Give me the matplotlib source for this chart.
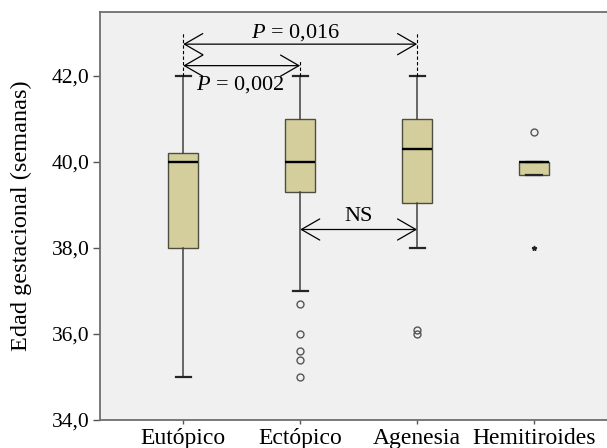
import matplotlib
matplotlib.use("Agg")
import matplotlib.pyplot as plt
from matplotlib.patches import FancyArrowPatch

plt.rcParams['font.family'] = ['Liberation Serif', 'DejaVu Serif']
plt.rcParams['mathtext.fontset'] = 'custom'
plt.rcParams['mathtext.rm'] = 'Liberation Serif'
plt.rcParams['mathtext.it'] = 'Liberation Serif:italic'

# Gestational age by thyroid location group
categories = ['Eutópico', 'Ectópico', 'Agenesia', 'Hemitiroides']
q1 = [38.0, 39.3, 39.05, 39.7]
medians = [40.0, 40.0, 40.3, 40.0]
q3 = [40.2, 41.0, 41.0, 40.0]
whisker_low = [35.0, 37.0, 38.0, 39.7]
whisker_high = [42.0, 42.0, 42.0, 40.0]
outliers = [[], [36.7, 36.0, 35.6, 35.4, 35.0], [36.1, 36.0], [40.7]]
extremes = [[], [], [], [38.0]]

# Pairwise comparisons: (group a, group b, label)
comparisons = [(0, 2, r'$P$ = 0,016'), (0, 1, r'$P$ = 0,002'), (1, 2, 'NS')]

yticks = [34.0, 36.0, 38.0, 40.0, 42.0]
ytick_labels = ['34,0', '36,0', '38,0', '40,0', '42,0']

fig = plt.figure(figsize=(6.07, 4.48), dpi=100)
ax = fig.add_axes([0.164, 0.0625, 0.84, 0.910])
ax.set_facecolor('#F0F0F0')

positions = list(range(1, len(categories) + 1))
stats = []
for i, name in enumerate(categories):
    stats.append(dict(label=name, q1=q1[i], med=medians[i], q3=q3[i],
                      whislo=whisker_low[i], whishi=whisker_high[i],
                      fliers=outliers[i]))

ax.bxp(stats, positions=positions, widths=0.26, patch_artist=True,
       showfliers=True, capwidths=0.13,
       boxprops=dict(facecolor='#D4CE9C', edgecolor='#4E4E40', linewidth=1.0),
       medianprops=dict(color='black', linewidth=1.7),
       whiskerprops=dict(color='#404040', linewidth=1.1),
       capprops=dict(color='#252525', linewidth=1.6),
       flierprops=dict(marker='o', markerfacecolor='none',
                       markeredgecolor='#555555', markersize=5,
                       markeredgewidth=1.0))

for pos, vals in zip(positions, extremes):
    if vals:
        ax.plot([pos] * len(vals), vals, linestyle='none', marker='*',
                color='#222222', markersize=3.5)

ax.set_xlim(0.285, 4.644)
ax.set_ylim(34.0, 43.48)
ax.set_yticks(yticks)
ax.set_yticklabels(ytick_labels, fontsize=15.5)
ax.set_xticks(positions)
ax.set_xticklabels(categories, fontsize=17)
ax.tick_params(axis='y', length=5, width=1.0, color='#555555', pad=2)
ax.tick_params(axis='x', length=3, width=1.0, color='#555555', pad=3)
ax.set_ylabel('Edad gestacional (semanas)', fontsize=17.5)
ax.yaxis.set_label_coords(-0.132, 0.5)

for side in ['left', 'bottom', 'top']:
    ax.spines[side].set_color('#6E6E6E')
    ax.spines[side].set_linewidth(1.3)
ax.spines['right'].set_visible(False)

# Comparison arrows
arrow_y = [42.74, 42.24, 38.43]
text_xy = [(2.0 - 0.04, 43.0), (1.49, 41.79), (2.5, 38.74)]
for (a, b, label), y, (tx, ty) in zip(comparisons, arrow_y, text_xy):
    arr = FancyArrowPatch((positions[a], y), (positions[b], y),
                          arrowstyle='<->,head_length=0.66,head_width=0.38',
                          mutation_scale=20, color='black', linewidth=0.9,
                          shrinkA=0, shrinkB=0)
    ax.add_patch(arr)
    ax.text(tx, ty, label, ha='center', va='center', fontsize=16)

# Dashed guides from the arrows down to the upper whisker caps
dash_top = [43.02, 42.36, 43.02]
for pos, top, cap in zip(positions[:3], dash_top, whisker_high[:3]):
    ax.plot([pos, pos], [cap, top], color='black', linestyle=(0, (3, 2)),
            linewidth=0.8)

fig.savefig('out.png', dpi=100)
